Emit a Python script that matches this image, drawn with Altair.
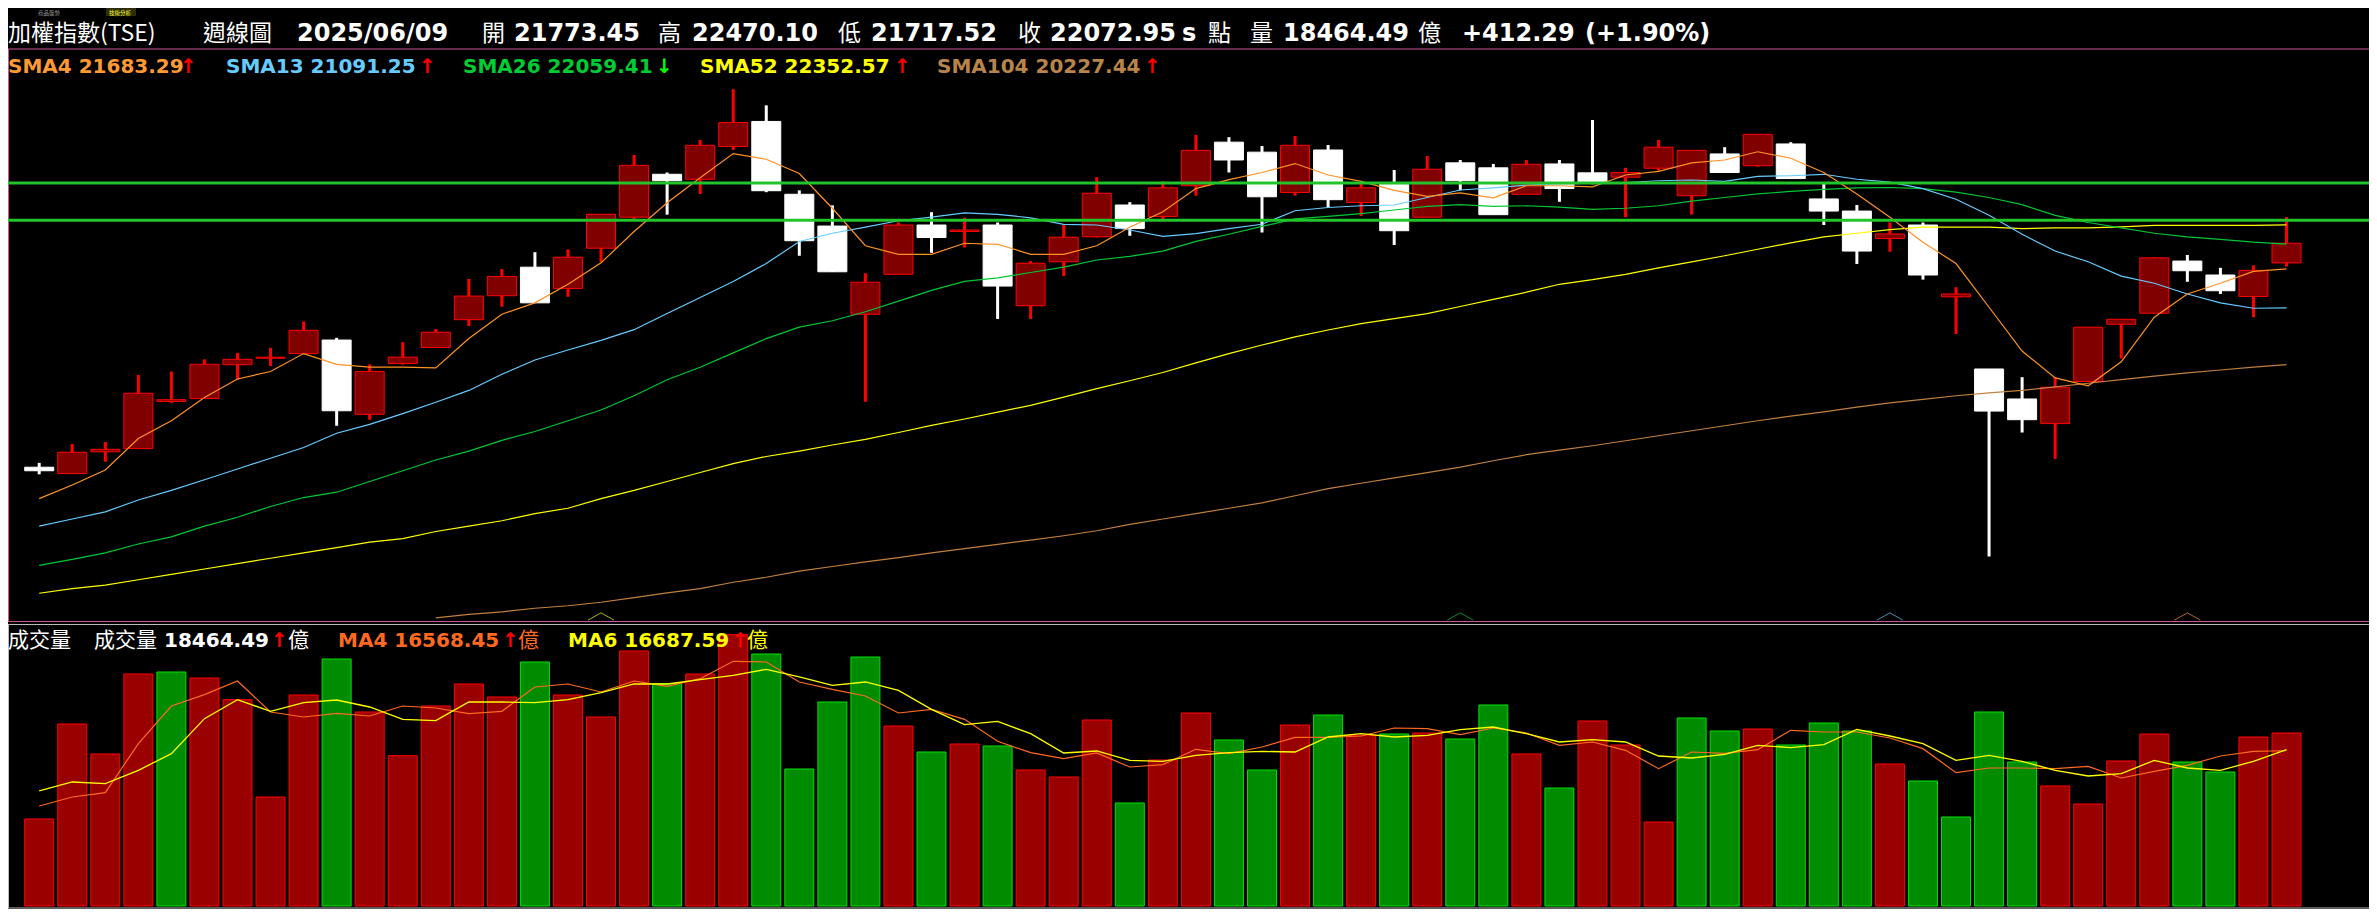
import altair as alt
import pandas as pd

W, H = 2361, 901

# ---------------- data (weekly TAIEX, 69 weeks ending 2025/06/09) ----------------
weeks = list(range(69))
opens = [18669, 18572, 18903, 18952, 19668, 19712, 20227, 20325, 20396, 20602,
         19473, 20244, 20488, 20911, 21275, 21709, 21384, 21997, 22469, 23121,
         23045, 23544, 23924, 22817, 22334, 20993, 21601, 22350, 22252, 22350,
         21123, 21791, 22171, 22654, 22480, 22947, 23609, 23457, 22844, 23490,
         22692, 22969, 22469, 23295, 23219, 22817, 23278, 23143, 23077, 23213,
         22795, 23430, 23251, 23582, 22746, 22562, 22144, 22350, 21259, 20162,
         19706, 19332, 19972, 20841, 21009, 21802, 21590, 21264, 21773.45]
highs = [18735, 19022, 19052, 20070, 20124, 20309, 20407, 20483, 20884, 20635,
         20233, 20569, 20770, 21530, 21682, 21937, 21981, 22513, 23414, 23148,
         23642, 24413, 24169, 22877, 22649, 21617, 22388, 22545, 22459, 22388,
         21802, 22350, 23077, 22697, 23012, 23718, 23685, 23550, 23702, 23566,
         23012, 23186, 23398, 23338, 23278, 23338, 23338, 23946, 23219, 23642,
         23485, 23533, 23729, 23609, 22985, 22654, 22388, 22388, 21405, 20162,
         20037, 20037, 20797, 20917, 21861, 21894, 21699, 21737, 22470.10]
lows = [18561, 18572, 18751, 18952, 19647, 19712, 19999, 20206, 20396, 19299,
        19391, 20227, 20488, 20814, 21107, 21167, 21259, 21785, 22442, 22507,
        22822, 23490, 22849, 21883, 21639, 19663, 21601, 21927, 22008, 20922,
        20922, 21574, 22160, 22187, 22442, 22795, 23148, 22236, 22795, 22616,
        22486, 22046, 22469, 22877, 22507, 22817, 22703, 22969, 22469, 23175,
        22507, 23148, 23235, 23056, 22350, 21758, 21943, 21520, 20694, 17312,
        19196, 18794, 19972, 20320, 21009, 21487, 21302, 20949, 21717.52]
closes = [18615, 18897, 18941, 19793, 19695, 20233, 20309, 20342, 20749, 19527,
          20124, 20342, 20721, 21270, 21568, 21167, 21861, 22513, 23257, 23023,
          23561, 23908, 22871, 22111, 21639, 21481, 22350, 22160, 22274, 21422,
          21769, 22165, 22833, 22296, 22915, 23485, 23338, 22779, 23561, 22735,
          22915, 22263, 23197, 23023, 22507, 23273, 22904, 22985, 23148, 23533,
          23485, 23148, 23729, 23056, 22562, 21954, 22214, 21590, 21302, 19522,
          19391, 19885, 20797, 20917, 21851, 21655, 21351, 21660.66, 22072.95]

sma4 = [18192, 18398, 18626, 19104, 19375, 19728, 20010, 20124, 20396, 20233,
        20189, 20189, 20179, 20624, 20993, 21167, 21449, 21775, 22252, 22687,
        23067, 23436, 23349, 23132, 22605, 22035, 21905, 21905, 22073, 22057,
        21905, 21905, 22035, 22317, 22551, 22904, 23039, 23148, 23284, 23110,
        23012, 22877, 22784, 22839, 22763, 22947, 22947, 22931, 23110, 23164,
        23295, 23338, 23463, 23365, 23148, 22822, 22469, 22089, 21764, 21100,
        20434, 20027, 19907, 20271, 20949, 21302, 21465, 21644, 21683.29]
sma13 = [17774, 17882, 17991, 18170, 18316, 18479, 18642, 18805, 18968, 19185,
         19321, 19484, 19657, 19836, 20081, 20298, 20450, 20596, 20759, 21004,
         21248, 21492, 21764, 22100, 22225, 22317, 22415, 22469, 22535, 22513,
         22459, 22361, 22350, 22274, 22176, 22220, 22296, 22361, 22567, 22616,
         22643, 22654, 22768, 22882, 22915, 22958, 22974, 22985, 22996, 23023,
         23034, 23012, 23088, 23099, 23121, 23045, 23001, 22904, 22741, 22497,
         22209, 21954, 21791, 21574, 21465, 21302, 21167, 21085, 21091.25]
sma26 = [17177, 17269, 17367, 17502, 17611, 17774, 17909, 18072, 18208, 18289,
         18452, 18615, 18778, 18914, 19077, 19212, 19375, 19538, 19755, 19999,
         20189, 20407, 20624, 20797, 20895, 21031, 21194, 21357, 21492, 21547,
         21628, 21709, 21818, 21872, 21954, 22100, 22209, 22328, 22442, 22480,
         22524, 22578, 22632, 22659, 22632, 22643, 22621, 22589, 22605, 22643,
         22714, 22768, 22822, 22860, 22893, 22915, 22920, 22904, 22849, 22768,
         22659, 22497, 22388, 22307, 22225, 22171, 22133, 22089, 22059.41]
sma52 = [16753, 16824, 16878, 16959, 17041, 17122, 17204, 17285, 17367, 17448,
         17529, 17584, 17692, 17774, 17855, 17964, 18045, 18192, 18316, 18452,
         18588, 18724, 18832, 18914, 19006, 19093, 19196, 19305, 19402, 19505,
         19609, 19733, 19864, 19983, 20108, 20255, 20396, 20526, 20651, 20754,
         20852, 20928, 21004, 21112, 21221, 21329, 21449, 21519, 21601, 21699,
         21791, 21883, 21981, 22079, 22171, 22225, 22279, 22317, 22317, 22317,
         22296, 22307, 22307, 22323, 22345, 22345, 22345, 22345, 22352.57]
sma104_weeks = weeks[12:]
sma104 = [16378, 16433, 16471, 16525, 16563, 16617, 16688, 16759,
          16824, 16921, 16997, 17090, 17160, 17231, 17296, 17367, 17432, 17497,
          17562, 17627, 17703, 17801, 17882, 17964, 18045, 18127, 18235, 18344,
          18425, 18507, 18588, 18669, 18767, 18859, 18930, 18995, 19071, 19147,
          19223, 19299, 19375, 19446, 19511, 19581, 19647, 19701, 19755, 19799,
          19836, 19891, 19945, 19999, 20054, 20103, 20146, 20189, 20227.44]

volume = [9284, 19421, 16220, 24757, 24970, 24330, 22018, 11631, 22516, 26357,
          20702, 16042, 21342, 23690, 22302, 26037, 22516, 20168, 27211, 23725,
          24757, 28954, 26891, 14619, 21769, 26571, 19208, 16433, 17287, 17074,
          14513, 13766, 19848, 10991, 15580, 20595, 17714, 14513, 19315, 20382,
          18212, 18354, 18461, 17821, 21449, 16220, 12592, 19741, 17180, 8964,
          20061, 18674, 18888, 17180, 19528, 18674, 15153, 13339, 9497, 20702,
          15366, 12805, 10884, 15473, 18354, 15366, 14299, 18034, 18464.49]
vol_dir = ["up", "up", "up", "up", "down", "up", "up", "up", "up", "down",
           "up", "up", "up", "up", "up", "down", "up", "up", "up", "down",
           "up", "up", "down", "down", "down", "down", "up", "down", "up", "down",
           "up", "up", "up", "down", "up", "up", "down", "down", "up", "down",
           "up", "down", "up", "down", "down", "up", "down", "up", "up", "up",
           "down", "down", "up", "down", "down", "down", "up", "down", "down", "down",
           "down", "up", "up", "up", "up", "down", "down", "up", "up"]
vol_ma4 = [10671, 11631, 12094, 17323, 21342, 22551, 24010, 20702, 20168, 20559,
           20275, 21342, 21129, 20524, 20773, 23369, 23690, 22836, 24010, 23441,
           24259, 26108, 26037, 23903, 23121, 22409, 20595, 20986, 19919, 17572,
           16362, 15722, 16327, 14833, 15082, 16718, 16255, 16967, 17998, 17998,
           18141, 18994, 18923, 18283, 18994, 18461, 17145, 17500, 16611, 14655,
           16433, 16291, 16682, 18745, 18568, 18568, 17927, 16789, 14228, 14726,
           14726, 14655, 14904, 13659, 14370, 15011, 16007, 16504, 16568.45]
vol_ma6 = [12272, 13232, 13054, 14477, 16255, 19990, 22018, 20773, 21698, 21982,
           21235, 19919, 19777, 21769, 21769, 21698, 22018, 22765, 23690, 23690,
           24152, 24614, 25255, 24437, 23547, 23903, 23014, 20986, 19350, 19706,
           18390, 16327, 16540, 15544, 15437, 16078, 16362, 16504, 16433, 18034,
           18390, 18034, 18212, 18817, 19101, 18390, 17500, 17749, 17500, 16007,
           15793, 16184, 17145, 16896, 17216, 18852, 18141, 17323, 15544, 16078,
           15437, 14477, 13872, 14121, 15544, 14726, 14477, 15437, 16687.59]

level_lines = [22988, 22421]
marker_weeks = [17, 43, 56, 65]
marker_series = ["SMA52", "SMA26", "SMA13", "SMA4"]
last_date = "2025/06/09"

# ---------------- styles ----------------
NUM = "DejaVu Sans"
CJK = "Noto Sans CJK TC"
C_SMA = {"SMA4": "#FF9226", "SMA13": "#66CCFF", "SMA26": "#00C832",
         "SMA52": "#FFFF00", "SMA104": "#C08040"}
C_SMA_TXT = {"SMA4": "#FF9A33", "SMA13": "#66CCFF", "SMA26": "#00CC33",
             "SMA52": "#FFFF00", "SMA104": "#B8844A"}
C_VMA4 = "#FF6A20"
C_VMA6 = "#FFFF00"

X_SCALE = alt.Scale(domain=[0, 68], range=[26.2, 2283.5])
P_SCALE = alt.Scale(domain=[16362, 25025], range=[611, 41])
V_SCALE = alt.Scale(domain=[0, 30230], range=[898, 614.7])

X = alt.X("w:Q", scale=X_SCALE, axis=None)


def PY(field):
    return alt.Y(field, type="quantitative", scale=P_SCALE, axis=None)


def VY(field):
    return alt.Y(field, type="quantitative", scale=V_SCALE, axis=None)


def txt(s, x, y, color="#FFFFFF", size=24, font=NUM, weight="bold", baseline="middle"):
    return alt.Chart(pd.DataFrame({"t": [s]})).mark_text(
        align="left", baseline=baseline, font=font, fontSize=size,
        fontWeight=weight, color=color
    ).encode(x=alt.value(x), y=alt.value(y), text="t:N")


def hrule(y, x1, x2, color, width=1):
    return alt.Chart(pd.DataFrame({"a": [0]})).mark_rule(color=color, strokeWidth=width).encode(
        x=alt.value(x1), x2=alt.value(x2), y=alt.value(y))


def vrule(x, y1, y2, color, width=1):
    return alt.Chart(pd.DataFrame({"a": [0]})).mark_rule(color=color, strokeWidth=width).encode(
        x=alt.value(x), y=alt.value(y1), y2=alt.value(y2))


def arrow(cur, prev):
    return ("↑", "#FF0000") if cur >= prev else ("↓", "#00FF00")


# ---------------- tables ----------------
candles = pd.DataFrame({"w": weeks, "o": opens, "h": highs, "l": lows, "c": closes})
candles["dir"] = ["up" if c >= o else "down" for o, c in zip(opens, closes)]
vol_df = pd.DataFrame({"w": weeks, "v": volume, "dir": vol_dir})

layers = []

# top tabs (the source screen shows only their lower edge)
layers.append(alt.Chart(pd.DataFrame({"a": [0]})).mark_rect(color="#2E2E08").encode(
    x=alt.value(98), x2=alt.value(128), y=alt.value(0), y2=alt.value(8)))
layers.append(txt("商品盤勢", 30, 4.9, "#9A9A9A", 5.5, CJK, "normal"))
layers.append(txt("技術分析", 101, 4.9, "#FFFF33", 5.5, CJK, "normal"))

# header
chg = closes[-1] - closes[-2]
pct = chg / closes[-2] * 100
HY = 26
header = [
    ("加權指數(TSE)", 0, CJK, 23, "normal"),
    ("週線圖", 195, CJK, 23, "normal"),
    (last_date, 289, NUM, 24, "bold"),
    ("開", 474, CJK, 23, "normal"), (f"{opens[-1]:.2f}", 506, NUM, 24, "bold"),
    ("高", 650, CJK, 23, "normal"), (f"{highs[-1]:.2f}", 684, NUM, 24, "bold"),
    ("低", 830, CJK, 23, "normal"), (f"{lows[-1]:.2f}", 863, NUM, 24, "bold"),
    ("收", 1010, CJK, 23, "normal"), (f"{closes[-1]:.2f}", 1042, NUM, 24, "bold"),
    ("s", 1174, NUM, 24, "bold"), ("點", 1200, CJK, 23, "normal"),
    ("量", 1242, CJK, 23, "normal"), (f"{volume[-1]:.2f}", 1275, NUM, 24, "bold"),
    ("億", 1410, CJK, 23, "normal"),
    (f"{chg:+.2f}", 1454, NUM, 24, "bold"), (f"({pct:+.2f}%)", 1577, NUM, 24, "bold"),
]
for s, x, f, sz, wt in header:
    layers.append(txt(s, x, HY, "#FFFFFF", sz, f, wt))

# SMA legend row
LY = 58.5
sma_rows = [("SMA4", sma4, 0, 172), ("SMA13", sma13, 218, 411), ("SMA26", sma26, 455, 648),
            ("SMA52", sma52, 692, 886), ("SMA104", sma104, 929, 1136)]
for name, vals, x0, xa in sma_rows:
    layers.append(txt(f"{name} {vals[-1]:.2f}", x0, LY, C_SMA_TXT[name], 20))
    a, ac = arrow(vals[-1], vals[-2])
    layers.append(txt(a, xa, LY, ac, 20))

# frames
layers.append(hrule(41, 0, W, "#CC5599"))
layers.append(vrule(0.5, 41, 613, "#CC5599"))
layers.append(hrule(613.5, 0, W, "#CC5599"))
layers.append(hrule(616.5, 0, W, "#BBBBBB"))
layers.append(vrule(0.5, 616, 900, "#BBBBBB"))
layers.append(hrule(900, 0, W, "#BBBBBB"))

# candles
is_up = alt.datum.dir == "up"
layers.append(alt.Chart(candles).mark_rule(strokeWidth=3).encode(
    x=X, y=PY("l"), y2=alt.Y2("h"),
    color=alt.condition(is_up, alt.value("#FF0000"), alt.value("#FFFFFF"))))
layers.append(alt.Chart(candles).mark_bar(size=29, strokeWidth=1).encode(
    x=X, y=PY("o"), y2=alt.Y2("c"),
    fill=alt.condition(is_up, alt.value("#800000"), alt.value("#FFFFFF")),
    stroke=alt.condition(is_up, alt.value("#FF0000"), alt.value("#FFFFFF"))))

# moving averages
for name, wk, vals in [("SMA104", sma104_weeks, sma104), ("SMA52", weeks, sma52),
                       ("SMA26", weeks, sma26), ("SMA13", weeks, sma13), ("SMA4", weeks, sma4)]:
    df = pd.DataFrame({"w": wk, "v": vals})
    layers.append(alt.Chart(df).mark_line(color=C_SMA[name], strokeWidth=1.2).encode(
        x=X, y=PY("v")))

# horizontal level lines
layers.append(alt.Chart(pd.DataFrame({"lvl": level_lines})).mark_rule(
    color="#22C42A", strokeWidth=3).encode(
    y=PY("lvl"), x=alt.value(0), x2=alt.value(W)))

# small chevron markers at the bottom of the price panel
mk = pd.DataFrame({"w": marker_weeks, "s": marker_series})
layers.append(alt.Chart(mk).mark_point(
    shape="M-1,0.28L0,-0.28L1,0.28", size=676, filled=False, strokeWidth=1).encode(
    x=X, y=alt.value(608.5),
    stroke=alt.Stroke("s:N", scale=alt.Scale(domain=list(C_SMA.keys()),
                                             range=list(C_SMA.values())), legend=None)))

# volume
layers.append(alt.Chart(vol_df).mark_bar(size=29, strokeWidth=1).encode(
    x=X, y=VY("v"),
    fill=alt.condition(is_up, alt.value("#990000"), alt.value("#008C00")),
    stroke=alt.condition(is_up, alt.value("#FF0000"), alt.value("#00E000"))))
layers.append(alt.Chart(pd.DataFrame({"w": weeks, "v": vol_ma4})).mark_line(
    color=C_VMA4, strokeWidth=1.2).encode(x=X, y=VY("v")))
layers.append(alt.Chart(pd.DataFrame({"w": weeks, "v": vol_ma6})).mark_line(
    color=C_VMA6, strokeWidth=1.3).encode(x=X, y=VY("v")))

# volume legend
VYL = 632.5
layers.append(txt("成交量", 0, VYL, "#FFFFFF", 21, CJK, "normal"))
layers.append(txt("成交量", 86, VYL, "#FFFFFF", 21, CJK, "normal"))
layers.append(txt(f"{volume[-1]:.2f}", 156, VYL, "#FFFFFF", 20))
a, ac = arrow(volume[-1], volume[-2])
layers.append(txt(a, 263, VYL, ac, 20))
layers.append(txt("億", 280, VYL, "#FFFFFF", 21, CJK, "normal"))
layers.append(txt(f"MA4 {vol_ma4[-1]:.2f}", 330, VYL, C_VMA4, 20))
a, ac = arrow(vol_ma4[-1], vol_ma4[-2])
layers.append(txt(a, 494, VYL, ac, 20))
layers.append(txt("億", 510, VYL, C_VMA4, 21, CJK, "normal"))
layers.append(txt(f"MA6 {vol_ma6[-1]:.2f}", 560, VYL, C_VMA6, 20))
a, ac = arrow(vol_ma6[-1], vol_ma6[-2])
layers.append(txt(a, 724, VYL, ac, 20))
layers.append(txt("億", 739, VYL, C_VMA6, 21, CJK, "normal"))

chart = alt.layer(*layers).resolve_scale(y="independent").properties(
    width=W, height=H, background="#000000", padding=0,
    autosize=alt.AutoSizeParams(type="none")
).configure_view(strokeWidth=0)

chart.save("out.html", embed_options={"renderer": "svg", "actions": False})
